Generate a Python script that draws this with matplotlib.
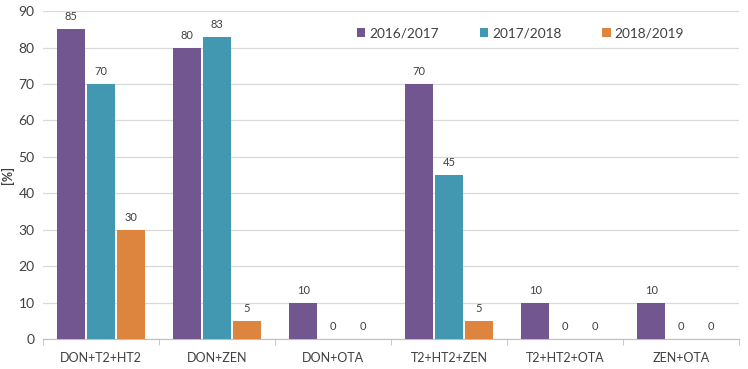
import matplotlib
matplotlib.use("Agg")
import matplotlib.pyplot as plt
import numpy as np

categories = ["DON+T2+HT2", "DON+ZEN", "DON+OTA", "T2+HT2+ZEN", "T2+HT2+OTA", "ZEN+OTA"]
series_names = ["2016/2017", "2017/2018", "2018/2019"]
s2016 = [85, 80, 10, 70, 10, 10]
s2017 = [70, 83, 0, 45, 0, 0]
s2018 = [30, 5, 0, 5, 0, 0]
yticks = [0, 10, 20, 30, 40, 50, 60, 70, 80, 90]

colors = ["#725690", "#4298B1", "#DD843F"]

plt.rcParams['font.family'] = ['Lato', 'DejaVu Sans']

fig = plt.figure(figsize=(7.48, 3.69), dpi=100)
ax = fig.add_axes([0.0575, 0.0813, 0.9305, 0.8887])

x = np.arange(len(categories))
w = 0.24
step = 0.258
for i, (vals, name, c) in enumerate(zip([s2016, s2017, s2018], series_names, colors)):
    pos = x + (i - 1) * step
    bars = ax.bar(pos, vals, width=w, color=c, label=name, zorder=3)
    for xp, v in zip(pos, vals):
        ax.annotate(f"{v}", (xp, v), xytext=(0, 5), textcoords="offset points",
                    ha="center", va="bottom", fontsize=8, color="#404040")

ax.set_xlim(-0.5, len(categories) - 0.5)
ax.set_ylim(0, 90)
ax.set_yticks(yticks)
ax.yaxis.grid(True, color="#D9D9D9", linewidth=0.9, zorder=0)
ax.set_axisbelow(True)
for s in ["top", "right", "left"]:
    ax.spines[s].set_visible(False)
ax.spines["bottom"].set_color("#BFBFBF")
ax.tick_params(axis="y", length=0, labelsize=10, colors="#404040", pad=6)
ax.set_xticks(x)
ax.set_xticklabels(categories)
ax.tick_params(axis="x", length=0, labelsize=9, colors="#404040", pad=9)
ax.set_xticks(np.arange(-0.5, len(categories)), minor=True)
ax.tick_params(axis="x", which="minor", length=4, color="#BFBFBF", direction="out")
ax.set_ylabel("[%]", fontsize=9, fontweight="bold", color="#404040", labelpad=3)

leg = ax.legend(loc="center left", bbox_to_anchor=(0.434, 0.933), ncol=3, frameon=False,
                handlelength=0.6, handleheight=0.6, handletextpad=0.3, columnspacing=3.0,
                fontsize=9.8, labelcolor="#404040")

fig.savefig("out.png", dpi=100)
